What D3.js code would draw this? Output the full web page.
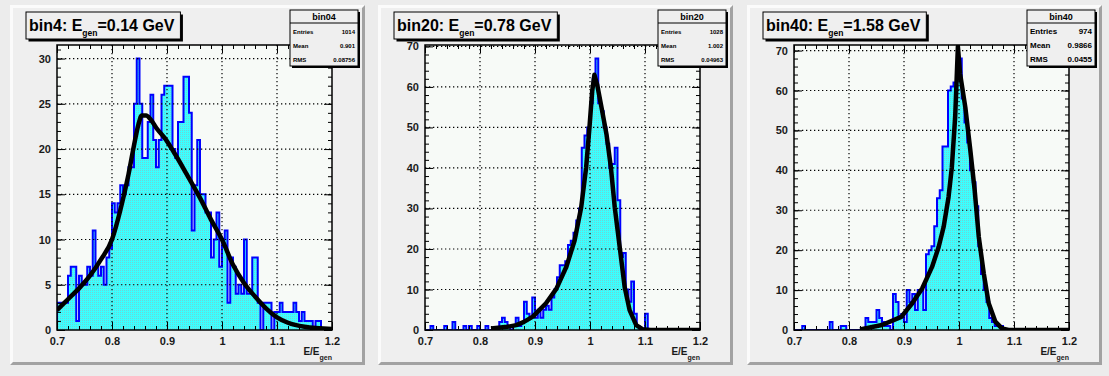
<!DOCTYPE html>
<html>
<head>
<meta charset="utf-8">
<script src="https://cdn.jsdelivr.net/npm/d3@7"></script>
<style>
body { margin: 0; background: #ececec; }
svg { display: block; font-family: "Liberation Sans", Arial, sans-serif; }
</style>
</head>
<body>
<div id="chart"></div>
<script>
// --- data ---
var titles = ["bin4", "bin20", "bin40"];
var statNames = ["bin04", "bin20", "bin40"];
var eGen = ["0.14", "0.78", "1.58"];
var entries = ["1014", "1028", "974"];
var means = ["0.901", "1.002", "0.9866"];
var rmsVals = ["0.08756", "0.04963", "0.0455"];

var xRange = [0.7, 1.2];
var xTicks = [0.7, 0.8, 0.9, 1, 1.1, 1.2];
var xTickLabels = ["0.7", "0.8", "0.9", "1", "1.1", "1.2"];
var yTicks1 = [0, 5, 10, 15, 20, 25, 30];
var yTicks2 = [0, 10, 20, 30, 40, 50, 60, 70];
var yTicks3 = [0, 10, 20, 30, 40, 50, 60, 70];

// 100 bins of width 0.005 between 0.7 and 1.2
var counts1 = [3,3,3,3,6,7,7,1,6,5, 5,7,6,11,7,6,7,5,8,9,
  14,13,14,16,15,16,18,18,25,30, 25,19,19,23,26,21,18,21,26,27,
  27,27,20,19,23,23,28,28,24,11, 16,21,15,15,13,13,8,10,13,7,
  10,11,3,8,7,4,5,4,10,4, 4,8,8,3,0,3,3,3,0,2,
  2,3,2,2,2,2,3,2,1,2, 1,1,1,0,1,1,0,0,0,0];
var counts2 = [0,0,1,0,0,0,0,1,0,0, 2,0,0,0,1,0,1,0,0,1,
  0,0,1,0,0,0,0,2,3,2, 1,0,1,3,1,2,7,4,3,8,
  3,5,3,5,6,5,8,10,13,16, 16,17,21,22,24,27,30,45,48,50,
  56,62,67,56,54,50,46,40,41,45, 32,18,19,10,7,12,4,1,0,0,
  4,0,0,0,0,0,0,0,0,0, 0,0,0,0,0,0,0,0,0,0];
var counts3 = [0,0,0,1,0,0,0,0,0,0, 0,0,0,2,0,0,0,1,1,0,
  0,0,0,0,0,0,3,2,2,2, 5,3,2,1,1,0,9,7,3,4,
  2,10,7,9,5,10,10,5,19,20, 21,26,33,35,46,46,60,61,62,65,
  68,58,52,47,40,37,31,21,14,10, 7,3,2,1,1,1,0,0,0,0,
  0,0,0,0,0,0,0,0,0,0, 0,0,0,0,0,0,0,0,0,0];

// fitted curves, points
var fit1 = [[0.70,2.2],[0.72,3.4],[0.74,4.6],[0.76,6.0],[0.78,7.8],[0.80,10.0],[0.815,13.2],
  [0.83,17.2],[0.84,20.4],[0.848,22.7],[0.854,23.7],[0.862,23.7],[0.87,23.3],[0.881,22.3],
  [0.896,21.2],[0.912,19.7],[0.936,17.2],[0.96,14.6],[0.98,12.2],[1.0,10.0],[1.02,7.2],
  [1.04,5.2],[1.06,3.7],[1.08,2.4],[1.10,1.4],[1.12,0.8],[1.15,0.35],[1.2,0.1]];
var fit2 = [[0.82,0.35],[0.85,0.8],[0.866,1.2],[0.88,2.0],[0.896,3.3],[0.92,6.6],[0.939,10.2],
  [0.957,15.6],[0.972,22.1],[0.984,30.3],[0.993,40.1],[0.999,50],[1.004,59],[1.008,63],
  [1.013,60.6],[1.021,54.9],[1.030,48.3],[1.038,40.1],[1.045,30.3],[1.054,20.5],[1.063,10.6],
  [1.072,4.9],[1.084,1.2],[1.096,0.16],[1.11,0],[1.2,0]];
var fit3 = [[0.82,0.15],[0.86,1.25],[0.895,3.3],[0.915,6.7],[0.933,10.4],[0.951,15.8],
  [0.963,20.8],[0.972,25.8],[0.981,33.3],[0.987,40.8],[0.993,53.3],[0.998,71],[1.002,64.2],
  [1.0115,55.8],[1.0206,45],[1.0285,35],[1.036,23.3],[1.045,14.2],[1.054,6.7],[1.066,2.1],
  [1.078,0.4],[1.09,0],[1.2,0]];

var panels = [
  {counts: counts1, fit: fit1, yTicks: yTicks1, smooth: true, statFs: 6},
  {counts: counts2, fit: fit2, yTicks: yTicks2, smooth: false, statFs: 6},
  {counts: counts3, fit: fit3, yTicks: yTicks3, smooth: false, statFs: 8}
];
var padX = [10, 378, 747];

var svg = d3.select("#chart").append("svg")
  .attr("width", 1109)
  .attr("height", 376);

svg.append("rect").attr("width", 1109).attr("height", 376).attr("fill", "#ececec");

var defs = svg.append("defs");
var pat = defs.append("pattern").attr("id", "hatch")
  .attr("width", 2).attr("height", 2).attr("patternUnits", "userSpaceOnUse");
pat.append("rect").attr("width", 2).attr("height", 2).attr("fill", "#3affff");
pat.append("rect").attr("width", 1).attr("height", 1).attr("fill", "#70d4d4");

panels.forEach(function(p, i) {
  var px = padX[i], py = 5, pw = 355, ph = 360;
  var g = svg.append("g");

  // pad with bevel
  g.append("rect").attr("x", px).attr("y", py).attr("width", pw).attr("height", ph).attr("fill", "#efefef");
  var b = 3, x1 = px + pw, y1 = py + ph;
  g.append("polygon").attr("fill", "#fbfbfb")
    .attr("points", [[px,py],[x1,py],[x1-b,py+b],[px+b,py+b],[px+b,y1-b],[px,y1]].join(" "));
  g.append("polygon").attr("fill", "#a2a2a2")
    .attr("points", [[px,y1],[x1,y1],[x1,py],[x1-b,py+b],[x1-b,y1-b],[px+b,y1-b]].join(" "));

  var fl = px + 47, fr = fl + 275, ft = 45, fb = 330;
  var x = d3.scaleLinear().domain(xRange).range([fl, fr]);
  var ymax = d3.max(p.counts) * 1.05;
  var y = d3.scaleLinear().domain([0, ymax]).range([fb, ft]);

  g.append("rect").attr("x", fl).attr("y", ft).attr("width", fr - fl).attr("height", fb - ft).attr("fill", "#f7faf7");

  defs.append("clipPath").attr("id", "clip" + i)
    .append("rect").attr("x", fl).attr("y", ft).attr("width", fr - fl).attr("height", fb - ft);

  // histogram as steps
  var bw = (xRange[1] - xRange[0]) / p.counts.length;
  var pts = [[xRange[0], 0]];
  p.counts.forEach(function(c, k) {
    pts.push([xRange[0] + k * bw, c]);
    pts.push([xRange[0] + (k + 1) * bw, c]);
  });
  pts.push([xRange[1], 0]);
  var stepLine = d3.line().x(function(d) { return x(d[0]); }).y(function(d) { return y(d[1]); });
  var hg = g.append("g").attr("clip-path", "url(#clip" + i + ")");
  hg.append("path").attr("d", stepLine(pts)).attr("fill", "url(#hatch)").attr("stroke", "none");
  hg.append("path").attr("d", stepLine(pts)).attr("fill", "none")
    .attr("stroke", "#0000ff").attr("stroke-width", 2);

  // dotted grid
  g.selectAll(".gx").data(xTicks.slice(1, -1)).enter().append("line")
    .attr("x1", function(d) { return x(d); }).attr("x2", function(d) { return x(d); })
    .attr("y1", ft).attr("y2", fb)
    .attr("stroke", "#000").attr("stroke-width", 1.2).attr("stroke-dasharray", "1.3,2.7");
  g.selectAll(".gy").data(p.yTicks.filter(function(d) { return d > 0 && y(d) > ft + 1; })).enter().append("line")
    .attr("x1", fl).attr("x2", fr)
    .attr("y1", function(d) { return y(d); }).attr("y2", function(d) { return y(d); })
    .attr("stroke", "#000").attr("stroke-width", 1.2).attr("stroke-dasharray", "1.3,2.7");

  // axes with ticks inside the frame
  var ystep = p.yTicks[1] - p.yTicks[0];
  var yMinor = d3.range(0, ymax, ystep / 5);
  var xMinor = d3.range(0, 26).map(function(k) { return 0.7 + k * 0.02; });

  function styleAxis(sel) {
    sel.select(".domain").remove();
    sel.selectAll("line").attr("stroke", "#000");
    sel.selectAll("text").attr("fill", "#1a1a1a").attr("font-weight", "bold").attr("font-size", 11)
      .attr("font-family", "'Liberation Sans', Arial, sans-serif");
  }
  g.append("g").attr("transform", "translate(" + fl + ",0)")
    .call(d3.axisLeft(y).tickValues(p.yTicks).tickSize(-8).tickPadding(6).tickFormat(d3.format("d")))
    .call(styleAxis);
  g.append("g").attr("transform", "translate(" + fl + ",0)")
    .call(d3.axisLeft(y).tickValues(yMinor).tickSize(-4).tickFormat(""))
    .call(styleAxis);
  g.append("g").attr("transform", "translate(" + fr + ",0)")
    .call(d3.axisRight(y).tickValues(p.yTicks).tickSize(-8).tickFormat(""))
    .call(styleAxis);
  g.append("g").attr("transform", "translate(" + fr + ",0)")
    .call(d3.axisRight(y).tickValues(yMinor).tickSize(-4).tickFormat(""))
    .call(styleAxis);
  g.append("g").attr("transform", "translate(0," + fb + ")")
    .call(d3.axisBottom(x).tickValues(xTicks).tickSize(-8).tickPadding(7)
      .tickFormat(function(d, k) { return xTickLabels[k]; }))
    .call(styleAxis);
  g.append("g").attr("transform", "translate(0," + fb + ")")
    .call(d3.axisBottom(x).tickValues(xMinor).tickSize(-4).tickFormat(""))
    .call(styleAxis);
  g.append("g").attr("transform", "translate(0," + ft + ")")
    .call(d3.axisTop(x).tickValues(xTicks).tickSize(-8).tickFormat(""))
    .call(styleAxis);
  g.append("g").attr("transform", "translate(0," + ft + ")")
    .call(d3.axisTop(x).tickValues(xMinor).tickSize(-4).tickFormat(""))
    .call(styleAxis);

  g.append("rect").attr("x", fl).attr("y", ft).attr("width", fr - fl).attr("height", fb - ft)
    .attr("fill", "none").attr("stroke", "#000").attr("stroke-width", 1.5);

  // fit curve
  var fitLine = d3.line().x(function(d) { return x(d[0]); }).y(function(d) { return y(d[1]); })
    .curve(p.smooth ? d3.curveMonotoneX : d3.curveLinear);
  g.append("path").attr("clip-path", "url(#clip" + i + ")")
    .attr("d", fitLine(p.fit)).attr("fill", "none")
    .attr("stroke", "#000").attr("stroke-width", 4.5).attr("stroke-linejoin", "round");

  // x axis title
  var xt = g.append("text").attr("x", fr).attr("y", 355).attr("text-anchor", "end")
    .attr("font-weight", "bold").attr("font-size", 10).attr("fill", "#1a1a1a");
  xt.append("tspan").text("E/E");
  xt.append("tspan").attr("dy", 5).attr("font-size", 7).text("gen");

  // title box
  var tx = px + 19, ty = 31;
  var tt = g.append("text").attr("x", tx).attr("y", ty)
    .attr("font-weight", "bold").attr("font-size", 16).attr("fill", "#000");
  tt.append("tspan").text(titles[i] + ": E");
  tt.append("tspan").attr("dy", 5).attr("font-size", 8.5).text("gen");
  tt.append("tspan").attr("dy", -5).text("=" + eGen[i] + " GeV");
  var tw = tt.node().getComputedTextLength();
  var bx = px + 16, by = 12, bwid = tw + 9, bh = 27;
  g.insert("rect", function() { return tt.node(); })
    .attr("x", bx + 2.5).attr("y", by + 2.5).attr("width", bwid).attr("height", bh).attr("fill", "#000");
  g.insert("rect", function() { return tt.node(); })
    .attr("x", bx).attr("y", by).attr("width", bwid).attr("height", bh)
    .attr("fill", "#efefef").attr("stroke", "#000").attr("stroke-width", 1);

  // stats box
  var sx = px + 280, sy = 10, sw = 68, sh = 56;
  g.append("rect").attr("x", sx + 2).attr("y", sy + 2).attr("width", sw).attr("height", sh).attr("fill", "#000");
  g.append("rect").attr("x", sx).attr("y", sy).attr("width", sw).attr("height", sh)
    .attr("fill", "#efefef").attr("stroke", "#000").attr("stroke-width", 1);
  g.append("line").attr("x1", sx).attr("x2", sx + sw).attr("y1", sy + 13).attr("y2", sy + 13)
    .attr("stroke", "#000").attr("stroke-width", 1);
  g.append("text").attr("x", sx + sw / 2).attr("y", sy + 10).attr("text-anchor", "middle")
    .attr("font-weight", "bold").attr("font-size", 9).text(statNames[i]);
  var rows = [["Entries", entries[i]], ["Mean", means[i]], ["RMS", rmsVals[i]]];
  rows.forEach(function(r, k) {
    var ry = sy + 24 + k * 14;
    g.append("text").attr("x", sx + 3).attr("y", ry).attr("font-weight", "bold")
      .attr("font-size", p.statFs).text(r[0]);
    g.append("text").attr("x", sx + sw - 3).attr("y", ry).attr("text-anchor", "end")
      .attr("font-weight", "bold").attr("font-size", p.statFs).text(r[1]);
  });
});
</script>
</body>
</html>
